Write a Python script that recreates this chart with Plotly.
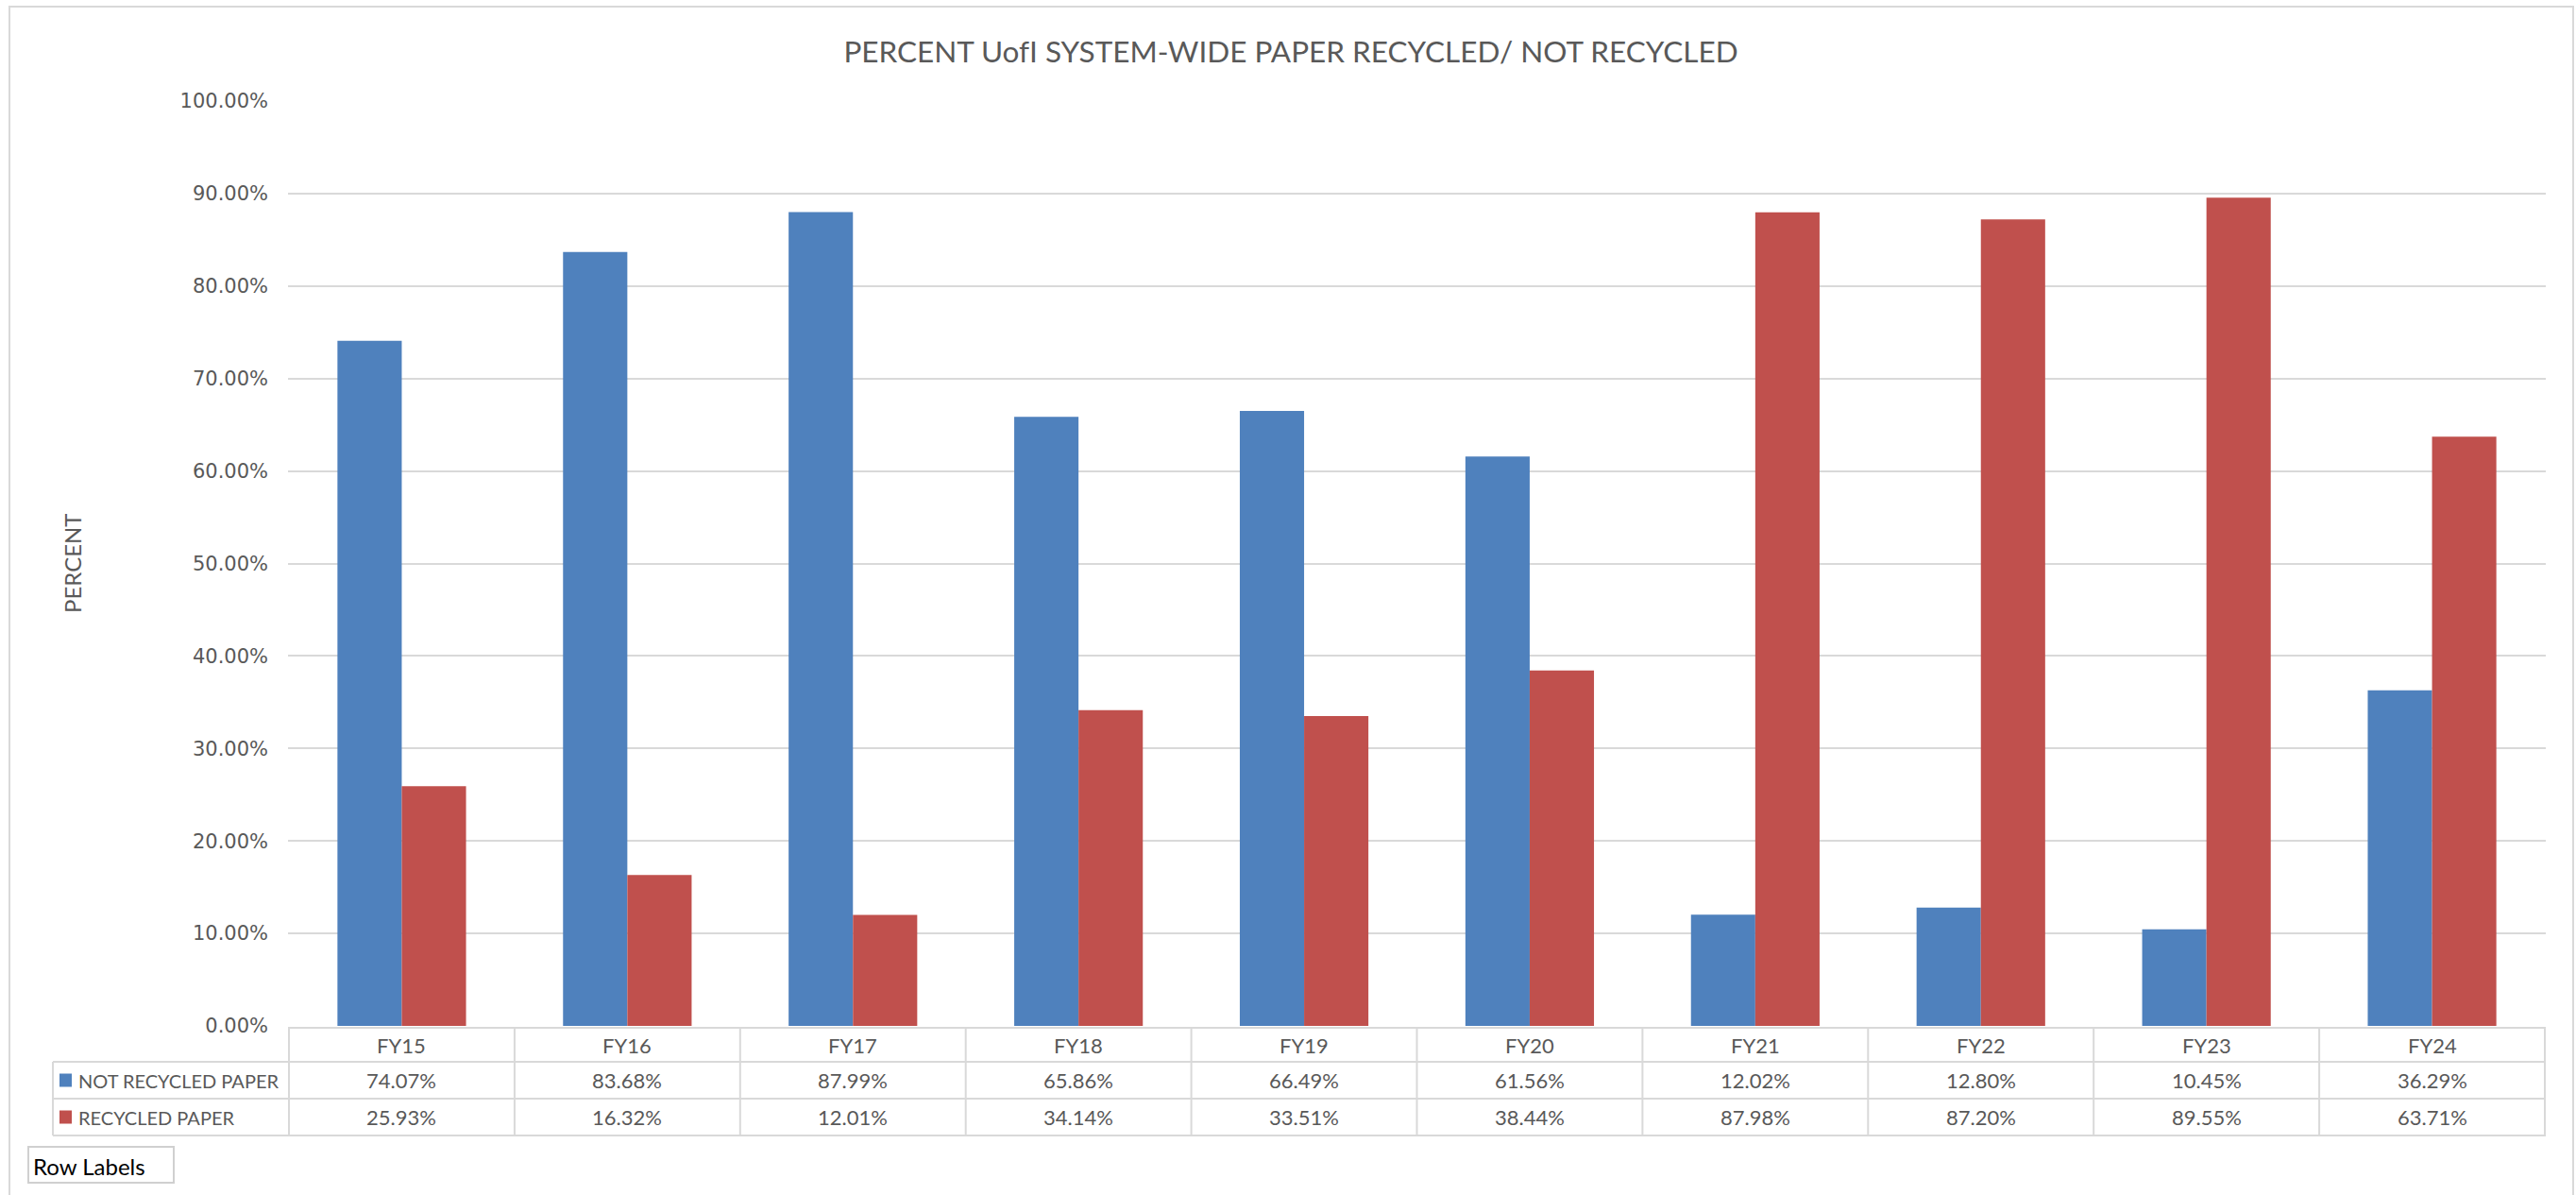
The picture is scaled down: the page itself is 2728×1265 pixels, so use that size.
import plotly.graph_objects as go

categories = ["FY15", "FY16", "FY17", "FY18", "FY19", "FY20", "FY21", "FY22", "FY23", "FY24"]
not_recycled = [0.7407, 0.8368, 0.8799, 0.6586, 0.6649, 0.6156, 0.1202, 0.1280, 0.1045, 0.3629]
recycled = [0.2593, 0.1632, 0.1201, 0.3414, 0.3351, 0.3844, 0.8798, 0.8720, 0.8955, 0.6371]
series_names = ["NOT RECYCLED PAPER", "RECYCLED PAPER"]
series_colors = ["#4F81BD", "#C0504D"]
title_text = "PERCENT UofI SYSTEM-WIDE PAPER RECYCLED/ NOT RECYCLED"
y_title = "PERCENT"
y_ticks = [i / 10 for i in range(11)]

W_FIG, H_FIG = 2728, 1265
L, R = 305, 2696          # plot area pixel extents
T, B = 107, 1086
PW, PH = R - L, B - T

def px_x(px):
    return (px - L) / PW

def px_y(py):
    return (B - py) / PH

GRID = "#D9D9D9"
TXT = "#595959"
CAL = "Lato, Open Sans, sans-serif"

fig = go.Figure()
for name, vals, col in zip(series_names, [not_recycled, recycled], series_colors):
    fig.add_trace(go.Bar(x=categories, y=vals, name=name, marker=dict(color=col, line=dict(width=0))))

shapes = []
annotations = []

# outer chart border
shapes.append(dict(type="rect", xref="paper", yref="paper",
                   x0=px_x(10), x1=px_x(2725), y0=px_y(1300), y1=px_y(7),
                   line=dict(color=GRID, width=2), fillcolor="rgba(0,0,0,0)", layer="below"))

# data table grid
row_lines = [1088, 1124, 1163, 1202]
n = len(categories)
shapes.append(dict(type="line", xref="paper", yref="paper", x0=0, x1=1,
                   y0=px_y(row_lines[0]), y1=px_y(row_lines[0]), line=dict(color=GRID, width=2)))
for ry in row_lines[1:]:
    shapes.append(dict(type="line", xref="paper", yref="paper", x0=px_x(56), x1=1,
                       y0=px_y(ry), y1=px_y(ry), line=dict(color=GRID, width=2)))
for i in range(n + 1):
    shapes.append(dict(type="line", xref="x", yref="paper", x0=i - 0.5, x1=i - 0.5,
                       y0=px_y(row_lines[0]), y1=px_y(row_lines[-1]), line=dict(color=GRID, width=2)))
shapes.append(dict(type="line", xref="paper", yref="paper", x0=px_x(56), x1=px_x(56),
                   y0=px_y(row_lines[1]), y1=px_y(row_lines[-1]), line=dict(color=GRID, width=2)))

# header row: category labels
hdr_y = px_y((row_lines[0] + row_lines[1]) / 2)
for c in categories:
    annotations.append(dict(x=c, y=hdr_y, xref="x", yref="paper", text=c, showarrow=False,
                            yanchor="middle",
                            font=dict(family=CAL, size=22, color=TXT)))

# value rows
for r, (name, vals, col) in enumerate(zip(series_names, [not_recycled, recycled], series_colors)):
    ymid = (row_lines[r + 1] + row_lines[r + 2]) / 2
    cy = px_y(ymid)
    for c, v in zip(categories, vals):
        annotations.append(dict(x=c, y=cy, xref="x", yref="paper", text=f"{v*100:.2f}%", showarrow=False,
                                yanchor="middle",
                                font=dict(family=CAL, size=22, color=TXT)))
    shapes.append(dict(type="rect", xref="paper", yref="paper", x0=px_x(63), x1=px_x(76),
                       y0=px_y(ymid + 7), y1=px_y(ymid - 7), fillcolor=col, line=dict(width=0)))
    annotations.append(dict(x=px_x(81), y=cy, xref="paper", yref="paper", text=name, showarrow=False,
                            xanchor="left", yanchor="middle",
                            font=dict(family=CAL, size=20, color=TXT)))

# Row Labels box
shapes.append(dict(type="rect", xref="paper", yref="paper", x0=px_x(30), x1=px_x(184),
                   y0=px_y(1252), y1=px_y(1214), line=dict(color="#D0D0D0", width=2),
                   fillcolor="white"))
annotations.append(dict(x=px_x(33), y=px_y(1234), xref="paper", yref="paper", text="Row Labels",
                        showarrow=False, xanchor="left", yanchor="middle",
                        font=dict(family=CAL, size=24, color="#000000")))

# y axis title
annotations.append(dict(x=px_x(60), y=0.5, xref="paper", yref="paper", text=y_title, showarrow=False,
                        textangle=-90, font=dict(family=CAL, size=24, color=TXT)))

fig.update_layout(
    width=W_FIG, height=H_FIG,
    margin=dict(l=L, r=W_FIG - R, t=T, b=H_FIG - B),
    paper_bgcolor="white", plot_bgcolor="white",
    title=dict(text=title_text, x=px_x(1367), xref="paper", xanchor="center",
               y=1 - 55 / H_FIG, yanchor="middle",
               font=dict(family=CAL, size=31.5, color=TXT)),
    barmode="group", bargap=0.43, bargroupgap=0,
    showlegend=False,
    shapes=shapes, annotations=annotations,
    xaxis=dict(showticklabels=False, showgrid=False, zeroline=False, showline=False, ticks=""),
    yaxis=dict(range=[0, 1], tickvals=y_ticks, tickformat=".2%", showgrid=True, gridcolor=GRID,
               gridwidth=2, zeroline=False, showline=False, ticks="",
               ticklabelstandoff=20,
               tickfont=dict(family="DejaVu Sans", size=21, color=TXT)),
)

fig.write_html("out.html", config={"displayModeBar": False},
               post_script="document.body.style.margin='0';document.body.style.overflow='hidden';")
